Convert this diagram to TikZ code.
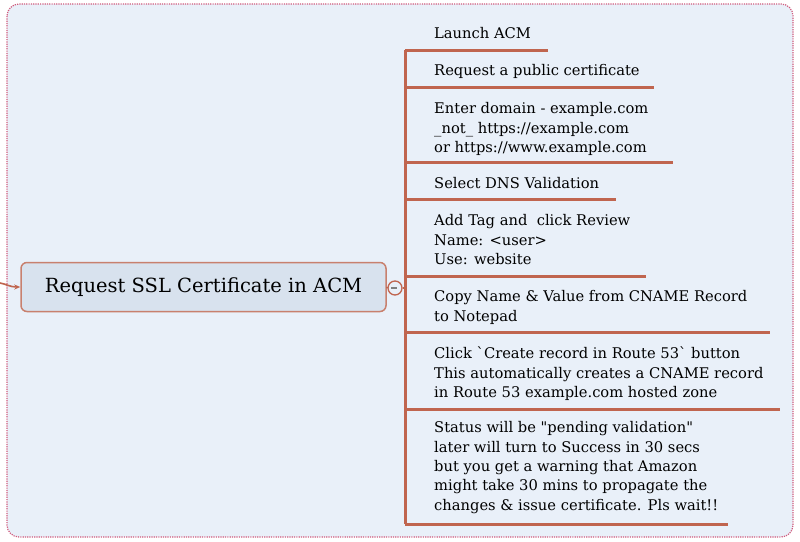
\documentclass[tikz,border=0pt]{standalone}
\usepackage{fontspec}
\setmainfont{DejaVu Serif}[Ligatures=TeXOff]
\usetikzlibrary{arrows.meta}
\definecolor{bgfill}{HTML}{E9F0F9}
\definecolor{bgborder}{HTML}{D05A7C}
\definecolor{branch}{HTML}{C0654F}
\definecolor{boxfill}{HTML}{D8E2EE}
\definecolor{boxborder}{HTML}{C8806E}
\tikzset{
  item/.style={anchor=north west, inner sep=0pt, align=left, font=\fontsize{14.7}{19.4}\selectfont, text=black},
  branchline/.style={draw=branch, line width=3pt},
  centralbox/.style={draw=boxborder, line width=1.5pt, fill=boxfill, rounded corners=6pt, minimum width=365pt, minimum height=49pt, inner sep=0pt, font=\fontsize{19.5}{23}\selectfont},
  collapse/.style={circle, draw=branch, line width=1.3pt, fill=bgfill, minimum size=14pt, inner sep=0pt}
}
\begin{document}
\begin{tikzpicture}[x=1pt,y=-1pt]
\useasboundingbox (0,0) rectangle (800,541);
% background panel
\draw[fill=bgfill, draw=bgborder, line width=1.2pt, dash pattern=on 1.2pt off 1.1pt, rounded corners=12pt] (7,4) rectangle (793,537);
% central node
\node[centralbox] (root) at (203.5,287) {Request SSL Certificate in ACM};
\coordinate (src) at (0,283);
\draw[branch, line width=1.6pt, -{Stealth[length=6pt,width=5pt]}] (src) .. controls (6,284) and (10,287) .. (root.west);
\node[collapse] (col) at (395,288) {};
\draw[gray, line width=1.2pt] (col.west) ++(4,0) -- ++(6,0);
% trunk
\coordinate (t0) at (405,50);
\coordinate (t8) at (405,524);
\draw[branchline] (t0) -- (t8);
\draw[branch, line width=1.5pt] (root.east) -- (col.west);
\draw[branch, line width=1.5pt] (col.east) -- (405,288);
% items
\node[item] (n1) at (434,25) {\strut Launch ACM};
\node[item] (n2) at (434,62) {\strut Request a public certificate};
\node[item] (n3) at (434,100) {\strut Enter domain - example.com\\\_not\_ https://example.com\\or https://www.example.com};
\node[item] (n4) at (434,175) {\strut Select DNS Validation};
\node[item] (n5) at (434,212) {\strut Add Tag and\ \ click Review\\Name: <user>\\Use: website};
\node[item] (n6) at (434,288) {\strut Copy Name \& Value from CNAME Record\\to Notepad};
\node[item] (n7) at (434,345) {\strut Click `Create record in Route 53` button\\This automatically creates a CNAME record\\in Route 53 example.com hosted zone};
\node[item] (n8) at (434,419) {\strut Status will be "pending validation"\\later will turn to Success in 30 secs\\but you get a warning that Amazon\\might take 30 mins to propagate the\\changes \& issue certificate. Pls wait!!};
% underlines
\coordinate (a1) at (405,50);  \coordinate (b1) at (548,50);
\coordinate (a2) at (405,87);  \coordinate (b2) at (654,87);
\coordinate (a3) at (405,162); \coordinate (b3) at (673,162);
\coordinate (a4) at (405,199); \coordinate (b4) at (616,199);
\coordinate (a5) at (405,276); \coordinate (b5) at (646,276);
\coordinate (a6) at (405,332); \coordinate (b6) at (770,332);
\coordinate (a7) at (405,409); \coordinate (b7) at (780,409);
\coordinate (a8) at (405,524); \coordinate (b8) at (728,524);
\foreach \i in {1,...,8} {\draw[branchline] (a\i) -- (b\i);}
\end{tikzpicture}
\end{document}
